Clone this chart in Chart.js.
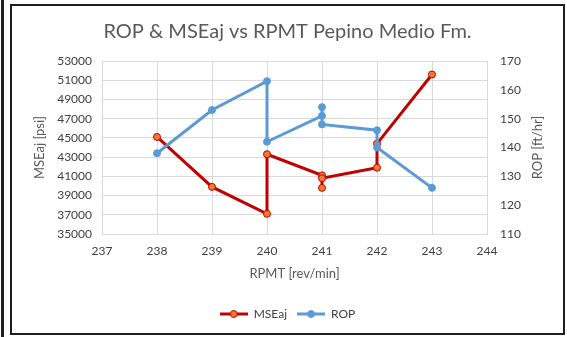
<!DOCTYPE html>
<html>
<head>
<meta charset="utf-8">
<title>ROP & MSEaj vs RPMT</title>
<script src="https://cdn.jsdelivr.net/npm/chart.js@4/dist/chart.umd.min.js"></script>
<style>
  html, body { margin: 0; padding: 0; background: #fff; }
  body { width: 567px; height: 337px; position: relative; overflow: hidden; }
  #edge { position: absolute; left: 1px; top: 0; width: 3px; height: 337px; background: #1e1e1e; }
  #frame { position: absolute; left: 10px; top: 4px; width: 551px; height: 327px; border: 2px solid #1e1e1e; background: #fff; }
  #chart { display: block; }
</style>
</head>
<body>
<div id="edge"></div>
<div id="frame"><canvas id="chart" width="551" height="327"></canvas></div>
<script>
// Data
const rpmt = [238, 239, 240, 240, 241, 241, 241, 242, 242, 243];
const mseaj = [45100, 39900, 37100, 43300, 41100, 39800, 40800, 41900, 44400, 51600];
const rop = [138, 153, 163, 142, 151, 154, 148, 146, 140, 126];

const xTicks = [237, 238, 239, 240, 241, 242, 243, 244];
const mseTicks = [35000, 37000, 39000, 41000, 43000, 45000, 47000, 49000, 51000, 53000];
const ropTicks = [110, 120, 130, 140, 150, 160, 170];

const FONT = 'Lato, "Open Sans", sans-serif';
const TXT = '#595959';
const TICK = '#404040';

// legend swatch: line with a marker in the middle
function legendSwatch(lineColor, fill, border) {
    const c = document.createElement('canvas');
    c.width = 28;
    c.height = 10;
    const g = c.getContext('2d');
    g.strokeStyle = lineColor;
    g.lineWidth = 3;
    g.beginPath();
    g.moveTo(0, 5);
    g.lineTo(28, 5);
    g.stroke();
    g.fillStyle = fill;
    g.strokeStyle = border;
    g.lineWidth = 1;
    g.beginPath();
    g.arc(14, 5, 3.5, 0, Math.PI * 2);
    g.fill();
    g.stroke();
    return c;
}

const swatches = [
    legendSwatch('#C00000', '#ED7D31', '#C00000'),
    legendSwatch('#5B9BD5', '#5B9BD5', '#5B9BD5')
];

// right axis title reads bottom-to-top like Excel
const rightTitle = {
    id: 'rightTitle',
    afterDraw(chart) {
        const ctx = chart.ctx;
        const area = chart.chartArea;
        ctx.save();
        ctx.translate(526, (area.top + area.bottom) / 2);
        ctx.rotate(-Math.PI / 2);
        ctx.fillStyle = TXT;
        ctx.font = '13px ' + FONT;
        ctx.textAlign = 'center';
        ctx.textBaseline = 'middle';
        ctx.fillText('ROP [ft/hr]', 0, 0);
        ctx.restore();
    }
};

const ctx = document.getElementById('chart').getContext('2d');

new Chart(ctx, {
    type: 'scatter',
    data: {
        datasets: [{
            label: 'MSEaj',
            data: rpmt.map((x, i) => ({ x: x, y: mseaj[i] })),
            yAxisID: 'y',
            showLine: true,
            borderColor: '#C00000',
            borderWidth: 3,
            backgroundColor: '#ED7D31',
            pointBorderColor: '#C00000',
            pointBorderWidth: 1,
            pointRadius: 3.5,
            order: 1
        }, {
            label: 'ROP',
            data: rpmt.map((x, i) => ({ x: x, y: rop[i] })),
            yAxisID: 'y1',
            showLine: true,
            borderColor: '#5B9BD5',
            borderWidth: 3,
            backgroundColor: '#5B9BD5',
            pointBorderColor: '#5B9BD5',
            pointBorderWidth: 1,
            pointRadius: 3.5,
            order: 0
        }]
    },
    options: {
        responsive: false,
        animation: false,
        layout: { padding: { top: 14, left: 0, right: 0, bottom: 3 } },
        plugins: {
            title: {
                display: true,
                text: 'ROP & MSEaj vs RPMT Pepino Medio Fm.',
                color: TXT,
                font: { family: FONT, size: 20, weight: 'normal' },
                padding: { top: 0, bottom: 17 }
            },
            legend: {
                position: 'bottom',
                labels: {
                    usePointStyle: true,
                    pointStyleWidth: 28,
                    padding: 10,
                    color: TXT,
                    font: { family: FONT, size: 12 },
                    generateLabels(chart) {
                        return chart.data.datasets.map((ds, i) => ({
                            text: ds.label,
                            pointStyle: swatches[i],
                            fontColor: TICK,
                            lineWidth: 0,
                            hidden: false,
                            datasetIndex: i
                        }));
                    }
                }
            },
            tooltip: { enabled: false }
        },
        scales: {
            x: {
                type: 'linear',
                min: 237,
                max: 244,
                afterBuildTicks(scale) { scale.ticks = xTicks.map(v => ({ value: v })); },
                afterFit(scale) { scale.height = 64; },
                ticks: { color: TICK, font: { family: FONT, size: 12 }, padding: 10, callback: v => String(v) },
                grid: { color: '#D9D9D9', drawTicks: false },
                border: { color: '#D9D9D9' },
                title: {
                    display: true,
                    text: 'RPMT [rev/min]',
                    color: TXT,
                    font: { family: FONT, size: 13 },
                    padding: { top: 0, bottom: 16 }
                }
            },
            y: {
                position: 'left',
                min: 35000,
                max: 53000,
                afterBuildTicks(scale) { scale.ticks = mseTicks.map(v => ({ value: v })); },
                afterFit(scale) { scale.width = 90; },
                ticks: { color: TICK, font: { family: FONT, size: 12 }, padding: 10, callback: v => String(v) },
                grid: { color: '#D9D9D9', drawTicks: false },
                border: { color: '#D9D9D9' },
                title: {
                    display: true,
                    text: 'MSEaj [psi]',
                    color: TXT,
                    font: { family: FONT, size: 13 },
                    padding: { top: 20, bottom: 0 }
                }
            },
            y1: {
                position: 'right',
                min: 110,
                max: 170,
                afterBuildTicks(scale) { scale.ticks = ropTicks.map(v => ({ value: v })); },
                afterFit(scale) { scale.width = 76; },
                ticks: { color: TICK, font: { family: FONT, size: 12 }, padding: 13, callback: v => String(v) },
                grid: { display: false, drawTicks: false },
                border: { color: '#D9D9D9' }
            }
        }
    },
    plugins: [rightTitle]
});
</script>
</body>
</html>
